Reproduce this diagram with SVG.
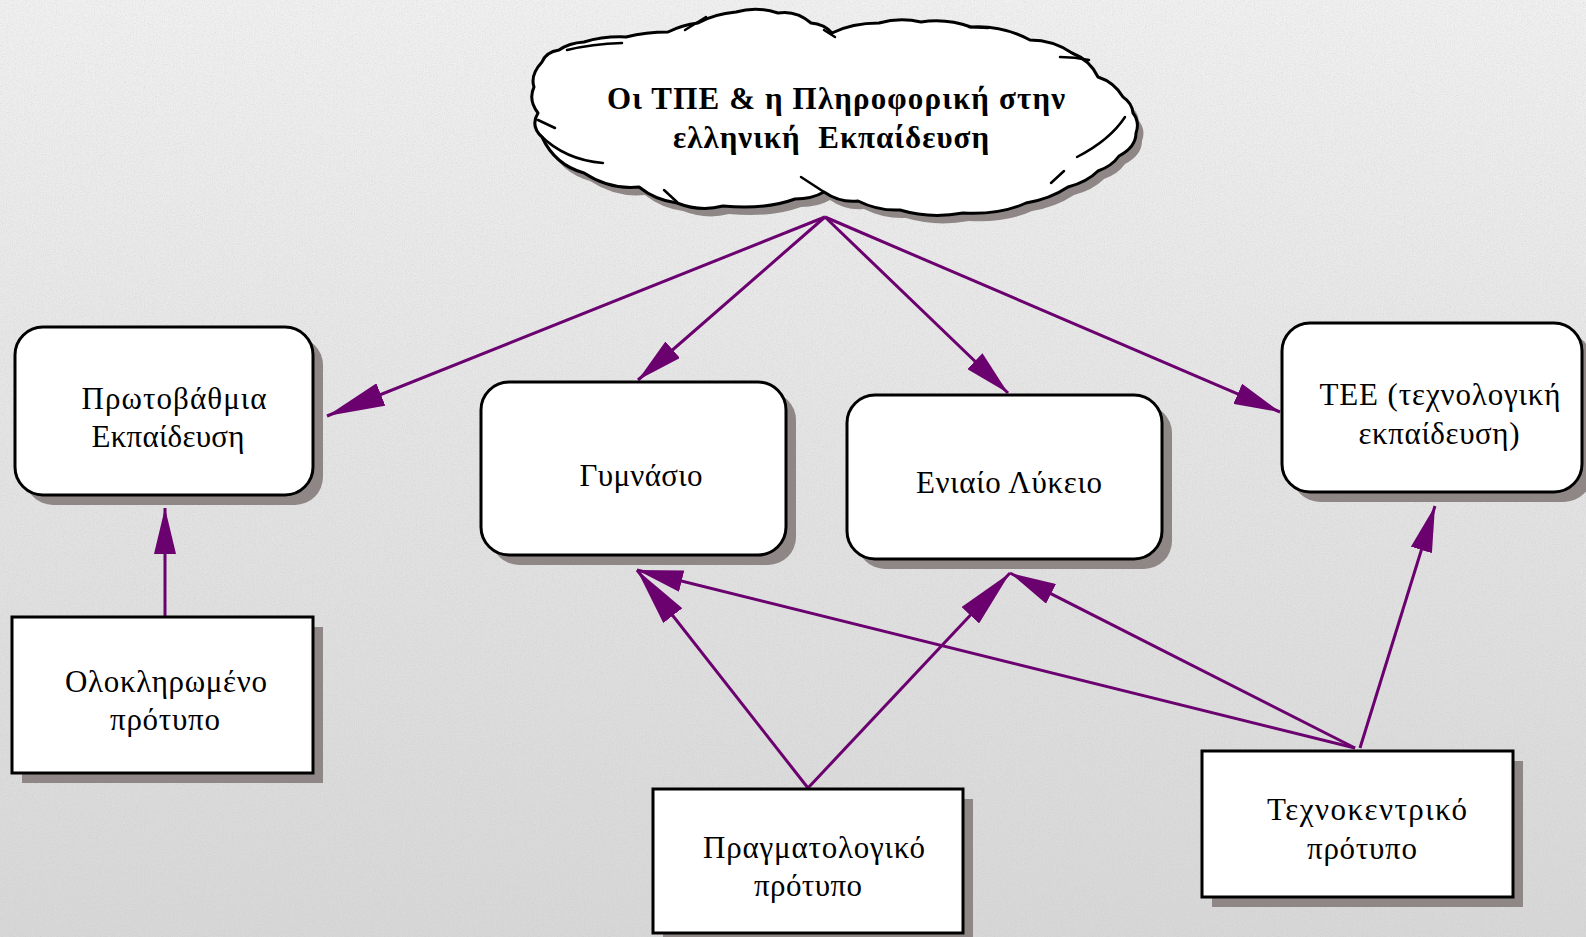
<svg xmlns="http://www.w3.org/2000/svg" width="1586" height="937" viewBox="0 0 1586 937">
<defs>
  <linearGradient id="bg" x1="0" y1="0" x2="0" y2="1">
    <stop offset="0" stop-color="#f1f1f1"/>
    <stop offset="0.5" stop-color="#e4e4e4"/>
    <stop offset="1" stop-color="#d8d8d8"/>
  </linearGradient>
  <filter id="noise" x="0" y="0" width="100%" height="100%">
    <feTurbulence type="fractalNoise" baseFrequency="0.9" numOctaves="2" seed="3" result="n"/>
    <feColorMatrix type="matrix" values="0 0 0 0 0.5  0 0 0 0 0.5  0 0 0 0 0.5  0.6 0.6 0.6 0 -0.75"/>
  </filter>
  <marker id="ah" viewBox="0 0 46 22" refX="46" refY="11" markerWidth="46" markerHeight="22" markerUnits="userSpaceOnUse" orient="auto">
    <path d="M0,0 L46,11 L0,22 Z" fill="#6b006f"/>
  </marker>
  <marker id="ahL" viewBox="0 0 58 24" refX="58" refY="12" markerWidth="58" markerHeight="24" markerUnits="userSpaceOnUse" orient="auto">
    <path d="M0,0 L58,12 L0,24 Z" fill="#6b006f"/>
  </marker>
  <path id="cloudShape" d="M542,62 Q530,75 534,87 Q528,100 538,113 Q530,126 542,137 Q555,165 584,173 Q610,190 639,187 Q655,200 677,203 Q700,212 723,206 Q765,210 795,199 Q812,199 824,192 Q840,203 858,201 Q878,211 900,210 Q930,219 963,213 Q1000,215 1026,203 Q1050,199 1068,187 Q1087,182 1098,171 Q1112,166 1119,156 Q1136,147 1136,133 Q1140,122 1133,113 Q1132,103 1123,97 Q1114,82 1098,77 Q1090,60 1072,53 Q1053,40 1030,40 Q1002,25 971,27 Q946,18 921,22 Q900,17 879,23 Q852,23 832,33 Q824,24 811,23 Q796,10 778,13 Q757,6 736,12 Q714,14 698,23 Q682,25 668,32 Q646,32 626,37 Q604,36 584,42 Q569,43 559,50 Q546,52 542,62 Z"/>
  <style>
    .shadow { fill: #8f8686; }
    .box { fill: #ffffff; stroke: #000000; stroke-width: 3; }
    .lbl { font-family: "Liberation Serif", "Times New Roman", serif; font-size: 31px; fill: #000000; text-anchor: middle; }
    .title { font-family: "Liberation Serif", "Times New Roman", serif; font-size: 31px; font-weight: bold; fill: #000000; text-anchor: middle; }
    .conn { stroke: #6b006f; stroke-width: 3; fill: none; }
    .scratch { stroke: #000000; stroke-width: 2.5; fill: none; stroke-linecap: round; }
  </style>
</defs>

<rect x="0" y="0" width="1586" height="937" fill="url(#bg)"/>
<rect x="0" y="0" width="1586" height="937" filter="url(#noise)" opacity="0.5"/>

<g id="connectors">
  <line class="conn" x1="825" y1="217" x2="327" y2="416" marker-end="url(#ahL)"/>
  <line class="conn" x1="825" y1="217" x2="638" y2="380" marker-end="url(#ah)"/>
  <line class="conn" x1="825" y1="217" x2="1008" y2="393" marker-end="url(#ah)"/>
  <line class="conn" x1="825" y1="217" x2="1280" y2="412" marker-end="url(#ah)"/>
  <line class="conn" x1="165" y1="617" x2="165" y2="508" marker-end="url(#ah)"/>
  <line class="conn" x1="808" y1="788" x2="637" y2="570" marker-end="url(#ahL)"/>
  <line class="conn" x1="808" y1="788" x2="1010" y2="573" marker-end="url(#ahL)"/>
  <line class="conn" x1="1355" y1="748" x2="637" y2="570" marker-end="url(#ah)"/>
  <line class="conn" x1="1355" y1="748" x2="1010" y2="573" marker-end="url(#ah)"/>
  <line class="conn" x1="1360" y1="748" x2="1435" y2="506" marker-end="url(#ah)"/>
</g>

<g id="cloud">
  <use href="#cloudShape" class="shadow" transform="translate(6,8)"/>
  <use href="#cloudShape" fill="#ffffff" stroke="#000000" stroke-width="3" stroke-linejoin="round"/>
  <path class="scratch" d="M685,30 L706,17"/>
  <path class="scratch" d="M567,50 Q592,44 622,43"/>
  <path class="scratch" d="M824,30 L835,37"/>
  <path class="scratch" d="M969,27 L988,28"/>
  <path class="scratch" d="M1060,57 Q1075,57 1089,60"/>
  <path class="scratch" d="M538,120 L555,128"/>
  <path class="scratch" d="M540,135 Q565,160 603,163"/>
  <path class="scratch" d="M664,190 L677,202"/>
  <path class="scratch" d="M801,177 L824,192"/>
  <path class="scratch" d="M1077,157 Q1110,140 1125,117"/>
  <path class="scratch" d="M1051,183 L1064,171"/>
  <text class="title" x="836" y="109" textLength="458" lengthAdjust="spacing">Οι ΤΠΕ &amp; η Πληροφορική στην</text>
  <text class="title" x="831" y="148" textLength="316" lengthAdjust="spacing">ελληνική&#160; Εκπαίδευση</text>
</g>

<g id="protovathmia">
  <rect class="shadow" x="25" y="337" width="298" height="168" rx="28"/>
  <rect class="box" x="15" y="327" width="298" height="168" rx="28"/>
  <text class="lbl" x="174" y="409" textLength="185" lengthAdjust="spacing">Πρωτοβάθμια</text>
  <text class="lbl" x="168" y="447" textLength="153" lengthAdjust="spacing">Εκπαίδευση</text>
</g>

<g id="gymnasio">
  <rect class="shadow" x="491" y="392" width="305" height="173" rx="28"/>
  <rect class="box" x="481" y="382" width="305" height="173" rx="28"/>
  <text class="lbl" x="641" y="486" textLength="123" lengthAdjust="spacing">Γυμνάσιο</text>
</g>

<g id="lykeio">
  <rect class="shadow" x="857" y="405" width="315" height="164" rx="28"/>
  <rect class="box" x="847" y="395" width="315" height="164" rx="28"/>
  <text class="lbl" x="1009" y="493" textLength="186" lengthAdjust="spacing">Ενιαίο Λύκειο</text>
</g>

<g id="tee">
  <rect class="shadow" x="1292" y="333" width="300" height="169" rx="28"/>
  <rect class="box" x="1282" y="323" width="300" height="169" rx="28"/>
  <text class="lbl" x="1440" y="405" textLength="241" lengthAdjust="spacing">ΤΕΕ (τεχνολογική</text>
  <text class="lbl" x="1439" y="444" textLength="161" lengthAdjust="spacing">εκπαίδευση)</text>
</g>

<g id="oloklirwmeno">
  <rect class="shadow" x="22" y="627" width="301" height="156"/>
  <rect class="box" x="12" y="617" width="301" height="156"/>
  <text class="lbl" x="166" y="692" textLength="202" lengthAdjust="spacing">Ολοκληρωμένο</text>
  <text class="lbl" x="165" y="730" textLength="110" lengthAdjust="spacing">πρότυπο</text>
</g>

<g id="pragmatologiko">
  <rect class="shadow" x="663" y="799" width="310" height="144"/>
  <rect class="box" x="653" y="789" width="310" height="144"/>
  <text class="lbl" x="814" y="858" textLength="222" lengthAdjust="spacing">Πραγματολογικό</text>
  <text class="lbl" x="808" y="896" textLength="108" lengthAdjust="spacing">πρότυπο</text>
</g>

<g id="technokentriko">
  <rect class="shadow" x="1212" y="761" width="311" height="146"/>
  <rect class="box" x="1202" y="751" width="311" height="146"/>
  <text class="lbl" x="1367" y="820" textLength="200" lengthAdjust="spacing">Τεχνοκεντρικό</text>
  <text class="lbl" x="1362" y="859" textLength="110" lengthAdjust="spacing">πρότυπο</text>
</g>
</svg>
